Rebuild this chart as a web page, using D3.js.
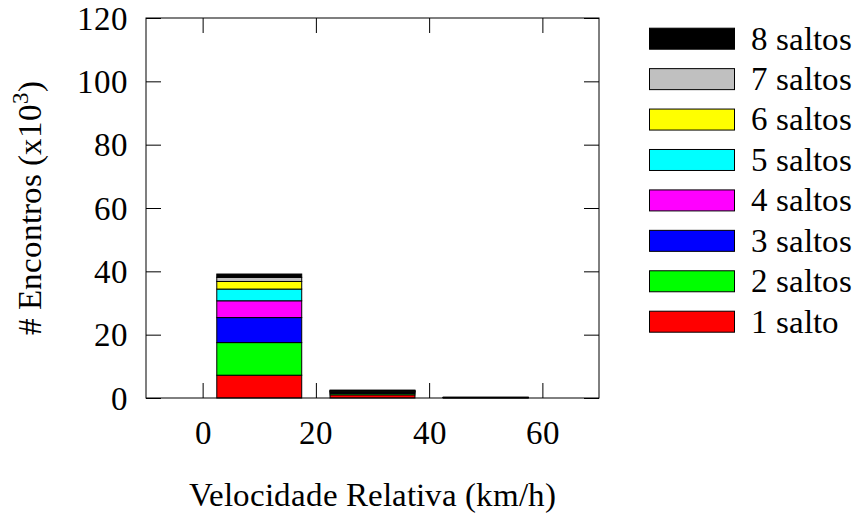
<!DOCTYPE html>
<html>
<head>
<meta charset="utf-8">
<script src="https://cdn.jsdelivr.net/npm/d3@7"></script>
<style>
  @font-face {
    font-family: "ChartSerif";
    src: local("Liberation Serif"), local("LiberationSerif"), local("LiberationSerif-Regular"),
         local("Tinos"), local("Tinos-Regular"), local("DejaVu Serif"), local("DejaVuSerif"),
         local("Noto Serif"), local("NotoSerif-Regular"), local("FreeSerif");
  }
  html, body { margin: 0; padding: 0; background: #fff; }
  svg { display: block; }
  text { font-family: "ChartSerif", "Liberation Serif", "DejaVu Serif", serif; fill: #000; }
</style>
</head>
<body>
<svg id="chart" width="854" height="519"></svg>
<script>
// Velocity bins (km/h): centre of each 20 km/h class
const binCentres = [10, 30, 50];

// Encounters (thousands) per number of hops, one value per velocity bin
const salto1 = [7.2, 1.0, 0.08];
const salto2 = [10.3, 0.45, 0.04];
const salto3 = [7.9, 0.3, 0.03];
const salto4 = [5.3, 0.2, 0.02];
const salto5 = [3.7, 0.15, 0.01];
const salto6 = [2.4, 0.1, 0.01];
const salto7 = [1.3, 0.1, 0.01];
const salto8 = [1.05, 0.2, 0.01];

const seriesNames = ["1 salto", "2 saltos", "3 saltos", "4 saltos", "5 saltos", "6 saltos", "7 saltos", "8 saltos"];
const seriesColors = ["#ff0000", "#00ff00", "#0000ff", "#ff00ff", "#00ffff", "#ffff00", "#c0c0c0", "#000000"];
const seriesValues = [salto1, salto2, salto3, salto4, salto5, salto6, salto7, salto8];

const xTicks = [0, 20, 40, 60];
const yTicks = [0, 20, 40, 60, 80, 100, 120];

const xTitle = "Velocidade Relativa (km/h)";

const svg = d3.select("#chart");
const plotLeft = 146, plotRight = 599, plotTop = 18, plotBottom = 398;
const tickLen = 15;

// pick a font size so the x title spans about 371 px with whatever face is present
const probe = svg.append("text").attr("font-size", 32).text(xTitle);
const probeLen = probe.node().getComputedTextLength();
probe.remove();
const fontSize = Math.min(33, 32 * 371 / (probeLen || 371));

const x = d3.scaleLinear().domain([-10, 70]).range([plotLeft, plotRight]);
const y = d3.scaleLinear().domain([0, 120]).range([plotBottom, plotTop]);

// rows for the stack layout
const rows = binCentres.map((c, i) => {
  const r = { centre: c };
  seriesNames.forEach((n, k) => { r[n] = seriesValues[k][i]; });
  return r;
});
const stacked = d3.stack().keys(seriesNames)(rows);

const barHalf = 7.5; // bar spans 75% of the 20 km/h class

// bars
const layers = svg.append("g").selectAll("g")
  .data(stacked).join("g")
  .attr("fill", (d, i) => seriesColors[i]);
layers.selectAll("rect")
  .data(d => d).join("rect")
  .attr("x", d => x(d.data.centre - barHalf))
  .attr("width", d => x(d.data.centre + barHalf) - x(d.data.centre - barHalf))
  .attr("y", d => y(d[1]))
  .attr("height", d => Math.max(0, y(d[0]) - y(d[1])))
  .attr("stroke", "#000")
  .attr("stroke-width", 1);

// axes with inward ticks on all four sides
const axisStyle = g => {
  g.attr("font-family", null);
  g.select(".domain").remove();
  g.selectAll(".tick line").attr("stroke", "#000").attr("stroke-width", 1);
  g.selectAll(".tick text").attr("font-size", fontSize).attr("fill", "#000");
};

svg.append("g").attr("transform", `translate(0,${plotBottom})`)
  .call(d3.axisBottom(x).tickValues(xTicks).tickSize(-tickLen).tickPadding(0).tickFormat(d3.format("d")))
  .call(axisStyle)
  .call(g => g.selectAll(".tick text").attr("y", 46).attr("dy", 0));

svg.append("g").attr("transform", `translate(0,${plotTop})`)
  .call(d3.axisTop(x).tickValues(xTicks).tickSize(-tickLen).tickFormat(""))
  .call(axisStyle);

svg.append("g").attr("transform", `translate(${plotLeft},0)`)
  .call(d3.axisLeft(y).tickValues(yTicks).tickSize(-tickLen).tickFormat(d3.format("d")))
  .call(axisStyle)
  .call(g => g.selectAll(".tick text").attr("x", -18).attr("dy", "0.34em"));

svg.append("g").attr("transform", `translate(${plotRight},0)`)
  .call(d3.axisRight(y).tickValues(yTicks).tickSize(-tickLen).tickFormat(""))
  .call(axisStyle);

// frame
svg.append("rect")
  .attr("x", plotLeft).attr("y", plotTop)
  .attr("width", plotRight - plotLeft).attr("height", plotBottom - plotTop)
  .attr("fill", "none").attr("stroke", "#000").attr("stroke-width", 1);

// axis titles
svg.append("text")
  .attr("x", (plotLeft + plotRight) / 2).attr("y", 506)
  .attr("text-anchor", "middle").attr("font-size", fontSize)
  .text(xTitle);

const yTitle = svg.append("text")
  .attr("transform", `translate(41,${(plotTop + plotBottom) / 2}) rotate(-90)`)
  .attr("text-anchor", "middle").attr("font-size", fontSize);
yTitle.append("tspan").text("# Encontros (x10");
yTitle.append("tspan").attr("dy", -0.38 * fontSize).attr("font-size", 0.69 * fontSize).text("3");
yTitle.append("tspan").attr("dy", 0.38 * fontSize).text(")");

// legend, top entry is the last series
const legend = svg.append("g");
const order = d3.range(seriesNames.length).reverse();
const rowY = d3.scalePoint().domain(order).range([38.7, 321.7]);
const entries = legend.selectAll("g").data(order).join("g")
  .attr("transform", i => `translate(0,${rowY(i)})`);
entries.append("rect")
  .attr("x", 649.5).attr("y", -10.5).attr("width", 85).attr("height", 21)
  .attr("fill", i => seriesColors[i]).attr("stroke", "#000").attr("stroke-width", 1);
entries.append("text")
  .attr("x", 751).attr("y", 0).attr("dy", "0.33em")
  .attr("font-size", fontSize)
  .text(i => seriesNames[i]);
</script>
</body>
</html>
